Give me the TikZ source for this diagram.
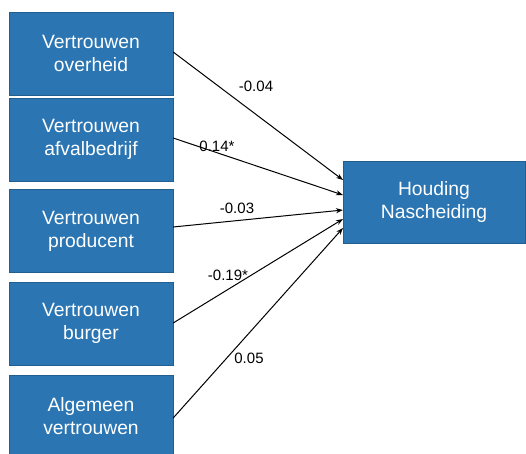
\documentclass[tikz,border=0pt]{standalone}
\usepackage{fontspec}
\setmainfont{Liberation Sans}
\usetikzlibrary{arrows.meta}
\definecolor{boxblue}{RGB}{42,117,178}
\tikzset{
  var/.style={fill=boxblue, draw=boxblue!80!black, line width=0.3pt, text=white,
    minimum width=164pt, minimum height=83pt, align=center, inner sep=0pt,
    font=\fontsize{19.3}{23}\selectfont},
  path/.style={line width=1pt, -{Stealth[length=7pt,width=5pt]}},
  coef/.style={font=\fontsize{15}{18}\selectfont, inner sep=0pt}
}
\begin{document}
\begin{tikzpicture}[x=1pt,y=-1pt]
  \useasboundingbox (0,0) rectangle (526,453);
  \node[var] (ov) at (91,53.5) {Vertrouwen\\overheid};
  \node[var] (af) at (91,139.5) {Vertrouwen\\afvalbedrijf};
  \node[var] (pr) at (91,231) {Vertrouwen\\producent};
  \node[var] (bu) at (91,323.5) {Vertrouwen\\burger};
  \node[var] (al) at (91,416.5) {Algemeen\\vertrouwen};
  \node[var, minimum width=182pt, minimum height=82pt] (hn) at (434,202) {Houding\\Nascheiding};

  \coordinate (e1) at (343,180);
  \coordinate (e2) at (343,195);
  \coordinate (e3) at (343,210);
  \coordinate (e4) at (343,219);
  \coordinate (e5) at (343,228);

  \draw[path] (ov.east |- 0,52) -- (e1);
  \draw[path] (af.east |- 0,138) -- (e2);
  \draw[path] (pr.east |- 0,227) -- (e3);
  \draw[path] (bu.east |- 0,323) -- (e4);
  \draw[path] (al.east |- 0,418) -- (e5);

  \node[coef] (c1) at (256,86) {-0.04};
  \node[coef] (c2) at (217,146) {0.14*};
  \node[coef] (c3) at (237,208) {-0.03};
  \node[coef] (c4) at (228,275) {-0.19*};
  \node[coef] (c5) at (249,358) {0.05};
\end{tikzpicture}
\end{document}
